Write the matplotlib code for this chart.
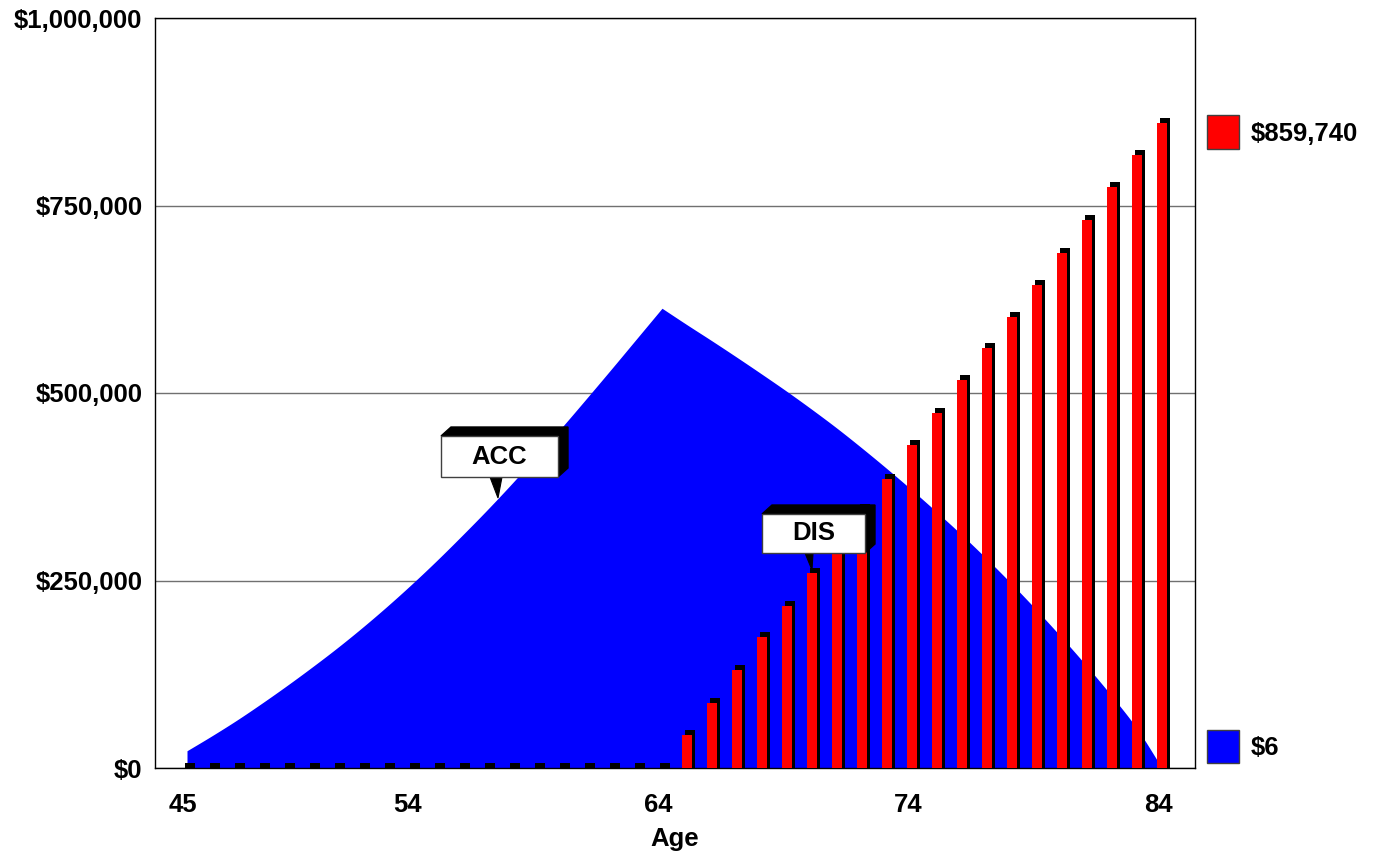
import matplotlib
matplotlib.use("Agg")
import matplotlib.pyplot as plt
import matplotlib.transforms as mtransforms
from matplotlib.patches import Polygon, Rectangle
import numpy as np

plt.rcParams['font.family'] = ['Liberation Sans', 'DejaVu Sans']
plt.rcParams['font.weight'] = 'bold'

# ---- data ----
ages = list(range(45, 85))
acc_values = [23000, 43000, 64000, 86500, 110000, 134500, 160000, 187000, 215500, 245500,
              277000, 310000, 344000, 379500, 416500, 454500, 493500, 533000, 573000, 613000,
              591000, 569500, 547500, 525000, 502000, 478000, 453000, 426500, 399000, 370500,
              341000, 310500, 278500, 245000, 210000, 173500, 135500, 95500, 52500, 6]
dis_values = [0] * 20 + [44000, 87000, 131000, 175000, 216000, 260000, 303000, 345000, 386000, 431000,
                         474000, 517000, 560000, 601000, 644000, 687000, 731000, 775000, 817000, 859740]
xtick_ages = [45, 54, 64, 74, 84]
ytick_values = [0, 250000, 500000, 750000, 1000000]
ytick_labels = ["$0", "$250,000", "$500,000", "$750,000", "$1,000,000"]
legend_labels = ["$859,740", "$6"]
peak_age = 64

FS = 18.5
fig = plt.figure(figsize=(13.8, 8.52), dpi=100)
ax = fig.add_axes([155/1380, 84/852, 1040/1380, 750/852])

idx = np.arange(len(ages))
ax.set_xlim(-1.28, 40.32)
ax.set_ylim(0, 1000000)

ax.set_axisbelow(True)
ax.yaxis.grid(True, color='#707070', lw=1.0, zorder=0)


def catmull(xs, ys, n=12):
    xs = np.asarray(xs, float)
    ys = np.asarray(ys, float)
    px = np.concatenate([[2*xs[0]-xs[1]], xs, [2*xs[-1]-xs[-2]]])
    py = np.concatenate([[2*ys[0]-ys[1]], ys, [2*ys[-1]-ys[-2]]])
    ox, oy = [], []
    for k in range(1, len(px) - 2):
        t = np.linspace(0, 1, n, endpoint=False)
        for arr, out in ((px, ox), (py, oy)):
            p0, p1, p2, p3 = arr[k-1], arr[k], arr[k+1], arr[k+2]
            out.extend(0.5 * ((2*p1) + (-p0 + p2)*t + (2*p0 - 5*p1 + 4*p2 - p3)*t**2
                              + (-p0 + 3*p1 - 3*p2 + p3)*t**3))
    ox.append(xs[-1]); oy.append(ys[-1])
    return np.array(ox), np.array(oy)

pk = ages.index(peak_age)
x1, y1 = catmull(idx[:pk+1], acc_values[:pk+1])
x2, y2 = catmull(idx[pk:], acc_values[pk:])
xs = np.concatenate([x1, x2[1:]])
ys = np.concatenate([y1, y2[1:]])
ax.fill_between(xs, np.clip(ys, 0, None), 0, color='#0000FF', lw=0, zorder=1)

px_x = 1.0 / 25.0          # data units per pixel (x)
px_y = 1000000 / 750.0     # data units per pixel (y)
ax.bar(idx + 3 * px_x, np.array(dis_values) + 5 * px_y, width=0.4, color='black', lw=0, zorder=2)
ax.bar(idx, dis_values, width=0.4, color='#FF0000', lw=0, zorder=3)

ax.set_xticks([ages.index(a) for a in xtick_ages])
ax.set_xticklabels([str(a) for a in xtick_ages], fontsize=FS, fontweight='bold')
ax.set_yticks(ytick_values)
ax.set_yticklabels(ytick_labels, fontsize=FS, fontweight='bold')
ax.tick_params(axis='x', length=0, pad=18)
ax.tick_params(axis='y', length=0, pad=9)
ax.set_xlabel("Age", fontsize=FS, fontweight='bold', labelpad=7)
for s in ax.spines.values():
    s.set_color('black')
    s.set_linewidth(1.0)
for lab in ax.get_xticklabels():
    lab.set_transform(lab.get_transform() + mtransforms.ScaledTranslation(-4/100, 0, fig.dpi_scale_trans))

# ---- callouts ----
def callout(tip, text, left, right, top, bottom, pb0, pb1):
    fig.canvas.draw()
    tx, ty = ax.transData.transform(tip)
    ident = mtransforms.IdentityTransform()
    d = 10
    e = 9
    shadow = Polygon([(tx+left, ty+top), (tx+left+d, ty+top+e), (tx+right+d, ty+top+e),
                      (tx+right+d, ty+bottom+e), (tx+right, ty+bottom), (tx+right, ty+top)],
                     closed=True, facecolor='black', edgecolor='black', lw=1,
                     transform=ident, zorder=10)
    box = Polygon([(tx+left, ty+top), (tx+right, ty+top), (tx+right, ty+bottom), (tx+left, ty+bottom)],
                  closed=True, facecolor='white', edgecolor='#404040', lw=1,
                  transform=ident, zorder=11)
    ptr = Polygon([(tx+pb0, ty+bottom), (tx+pb1, ty+bottom), (tx, ty)], closed=True,
                  facecolor='black', edgecolor='black', lw=0.8, transform=ident, zorder=11)
    for p in (shadow, ptr, box):
        fig.add_artist(p)
    fig.text((tx + (left + right) / 2) / 1380, (ty + (top + bottom) / 2) / 852, text,
             ha='center', va='center', fontsize=FS, fontweight='bold', zorder=12)

callout((12.44, 360000), "ACC", -57, 60, 62, 21, -8, 4)
callout((25.0, 264000), "DIS", -50, 53, 56, 17, -7, 1)

# ---- legend ----
fig.add_artist(Rectangle((1207/1380, (852-149)/852), 32/1380, 34/852, transform=fig.transFigure,
                         facecolor='#FF0000', edgecolor='#404040', lw=1))
fig.add_artist(Rectangle((1207/1380, (852-763)/852), 32/1380, 33/852, transform=fig.transFigure,
                         facecolor='#0000FF', edgecolor='#404040', lw=1))
fig.text(1251/1380, (852-134)/852, legend_labels[0], ha='left', va='center', fontsize=FS, fontweight='bold')
fig.text(1251/1380, (852-748)/852, legend_labels[1], ha='left', va='center', fontsize=FS, fontweight='bold')

fig.savefig("out.png", dpi=100)
